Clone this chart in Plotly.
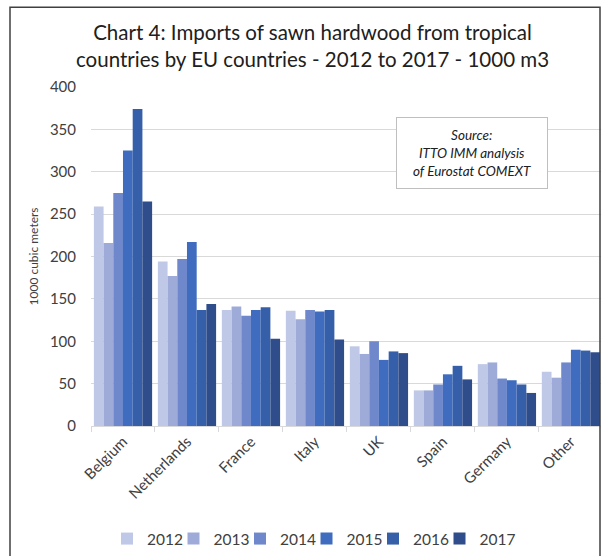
import plotly.graph_objects as go

categories = ["Belgium", "Netherlands", "France", "Italy", "UK", "Spain", "Germany", "Other"]
years = ["2012", "2013", "2014", "2015", "2016", "2017"]
v2012 = [259, 194, 137, 136, 94, 42, 73, 64]
v2013 = [216, 177, 141, 126, 85, 42, 75, 57]
v2014 = [275, 197, 130, 137, 100, 49, 56, 75]
v2015 = [325, 217, 137, 135, 78, 61, 54, 90]
v2016 = [374, 137, 140, 137, 88, 71, 49, 89]
v2017 = [265, 144, 103, 102, 86, 55, 39, 87]
series = [v2012, v2013, v2014, v2015, v2016, v2017]
colors = ["#bfc8e6", "#9eabd9", "#6e88cb", "#3f6cbe", "#355fa8", "#2f4d8a"]

FONT = "Lato, Carlito, Calibri, sans-serif"
L, T, B = 91, 87, 427  # plot area in px
PH = B - T
W = 601 - L

def px(x):
    return (x - L) / W

def py(y):
    return (B - y) / PH

fig = go.Figure()
legend_layout = {}
for i, (y, vals, c) in enumerate(zip(years, series, colors)):
    lname = "legend" if i == 0 else f"legend{i + 1}"
    fig.add_trace(go.Bar(name=y, x=categories, y=vals, legend=lname,
                         marker=dict(color=c, line=dict(width=0))))
    legend_layout[lname] = dict(
        orientation="h", x=px(107 + 66.5 * i), xanchor="left", y=py(541), yanchor="middle",
        font=dict(size=15.5, color="#404040"), itemwidth=30, bgcolor="rgba(0,0,0,0)")

fig.update_layout(
    width=601, height=556,
    margin=dict(l=L, r=0, t=T, b=556 - B),
    paper_bgcolor="white", plot_bgcolor="white",
    barmode="group", bargap=0.09, bargroupgap=0,
    font=dict(family=FONT, color="#404040"),
    showlegend=True,
    xaxis=dict(range=[-0.5, 7.47], tickson="boundaries", ticks="outside", ticklen=5,
               tickcolor="#d9d9d9", showline=True, linecolor="#d9d9d9", linewidth=1,
               tickangle=-45, tickfont=dict(size=15, color="#404040"), showgrid=False,
               automargin=False),
    yaxis=dict(range=[0, 400], dtick=50, showgrid=True, gridcolor="#d9d9d9", gridwidth=1,
               zeroline=False, tickfont=dict(size=15, color="#404040"), ticks="",
               ticklabelstandoff=14, automargin=False),
    annotations=[
        dict(text="Chart 4: Imports of sawn hardwood from tropical<br>countries by EU countries - 2012 to 2017 - 1000 m3",
             xref="paper", yref="paper", x=px(312), y=py(45.5), xanchor="center", yanchor="middle",
             showarrow=False, font=dict(family=FONT, size=20.5, color="#202020")),
        dict(text="1000 cubic meters", textangle=-90,
             xref="paper", yref="paper", x=px(33), y=py(257), xanchor="center", yanchor="middle",
             showarrow=False, font=dict(family=FONT, size=12, color="#404040")),
        dict(text="<i>Source:<br>ITTO IMM analysis<br>of Eurostat COMEXT</i>",
             xref="paper", yref="paper", x=px(472), y=py(153),
             xanchor="center", yanchor="middle", showarrow=False,
             font=dict(family=FONT, size=13.5, color="#202020"),
             width=142, height=62,
             bordercolor="#bfbfbf", borderwidth=1, borderpad=4, bgcolor="white",
             align="center")],
    **legend_layout,
)

# outer frame
fig.add_shape(type="rect", xref="paper", yref="paper",
              x0=px(10), x1=px(600), y0=py(620), y1=py(7),
              line=dict(color="#404040", width=1.5), fillcolor="rgba(0,0,0,0)", layer="above")

fig.write_html("out.html")
